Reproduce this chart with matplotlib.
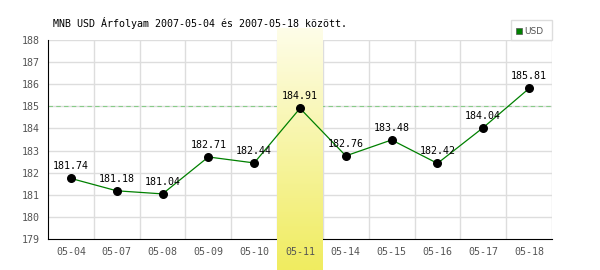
import numpy as np
import matplotlib
matplotlib.use("Agg")
import matplotlib.pyplot as plt
from matplotlib.colors import LinearSegmentedColormap
from matplotlib.patches import Rectangle

dates = ["05-04", "05-07", "05-08", "05-09", "05-10", "05-11", "05-14", "05-15", "05-16", "05-17", "05-18"]
values = [181.74, 181.18, 181.04, 182.71, 182.44, 184.91, 182.76, 183.48, 182.42, 184.04, 185.81]
ref_level = 185.0
highlight = "05-11"
title = "MNB USD Árfolyam 2007-05-04 és 2007-05-18 között."
series_name = "USD"

plt.rcParams['font.family'] = ['DejaVu Sans Mono']
fig = plt.figure(figsize=(6, 2.7), dpi=100)
ax = fig.add_axes([48/600, 31/270, 504/600, 199/270])
ax.set_axisbelow(False)
x = np.arange(len(dates))

# grid
for xv in np.arange(0.5, len(dates), 1.0):
    ax.axvline(xv, color="#dddddd", lw=1, zorder=1)
for yv in range(180, 189):
    ax.axhline(yv, color="#dddddd", lw=1, zorder=1)
ax.axhline(ref_level, color="#88cc88", lw=0.8, ls=(0, (4, 3)), zorder=1.5)

# highlight band with gradient
hi = dates.index(highlight)
grad = np.linspace(0, 1, 100).reshape(-1, 1)
cmap = LinearSegmentedColormap.from_list("yl", ["#fefde8", "#f0ec60"])
upp = 188 + 11 / 22.11
low = 179 - 31 / 22.11
ax.imshow(grad, aspect="auto", cmap=cmap, extent=[hi - 0.5, hi + 0.5, low, upp],
          origin="upper", zorder=2, clip_on=False)
ax.set_xlim(-0.5, len(dates) - 0.5)
ax.set_ylim(179, 188)

ax.plot(x, values, color="#008000", lw=0.9, zorder=3)
ax.scatter(x, values, s=30, color="black", zorder=4)
for xi, v in zip(x, values):
    ax.annotate(f"{v:.2f}", (xi, v), xytext=(0, 5), textcoords="offset points",
                ha="center", va="bottom", fontsize=7.2, color="black", zorder=5)

for s in ["top", "right"]:
    ax.spines[s].set_visible(False)
ax.spines["left"].set_color("black")
ax.spines["bottom"].set_color("black")
ax.spines["left"].set_zorder(6)
ax.spines["bottom"].set_zorder(1.8)
ax.set_xticks(x)
ax.set_xticklabels(dates)
ax.set_yticks(range(179, 189))
ax.tick_params(length=0, labelsize=7.2, labelcolor="#555555", pad=6)

fig.text(53/600, 1 - 23/270, title, fontsize=7.2, ha="left", va="center", color="black")

# legend box
lx0, lx1, ly0, ly1 = 511, 552, 20, 40
fig.patches.append(Rectangle((lx0/600, 1 - ly1/270), (lx1-lx0)/600, (ly1-ly0)/270,
                             transform=fig.transFigure, fill=False, edgecolor="#dddddd", lw=1))
fig.patches.append(Rectangle((516/600, 1 - 34/270), 6/600, 6/270, transform=fig.transFigure,
                             facecolor="#008000", edgecolor="#555555", lw=0.5))
fig.text(524/600, 1 - 31/270, series_name, fontsize=6.5, ha="left", va="center",
         color="#555555", family="DejaVu Sans")

fig.savefig("out.png", dpi=100)
